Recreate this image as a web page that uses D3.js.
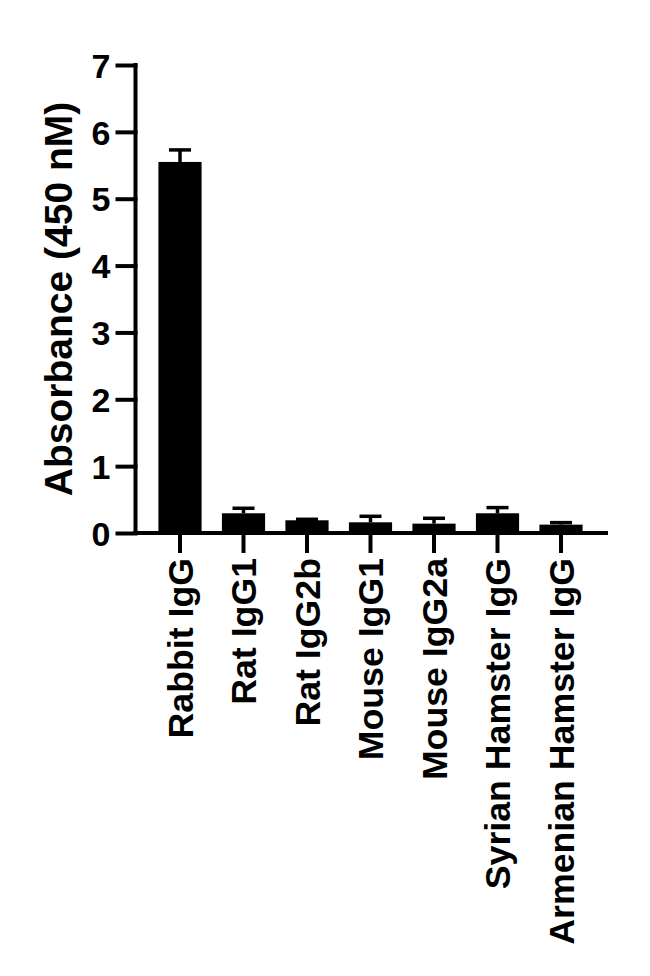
<!DOCTYPE html>
<html>
<head>
<meta charset="utf-8">
<script src="https://cdn.jsdelivr.net/npm/d3@7"></script>
<style>
  html, body { margin: 0; padding: 0; background: #fff; }
  svg text { font-family: "Liberation Sans", Arial, Helvetica, sans-serif; font-weight: bold; fill: #000; }
</style>
</head>
<body>
<svg id="chart" width="650" height="976"></svg>
<script>
const categories = ["Rabbit IgG", "Rat IgG1", "Rat IgG2b", "Mouse IgG1", "Mouse IgG2a", "Syrian Hamster IgG", "Armenian Hamster IgG"];
const means = [5.55, 0.295, 0.19, 0.16, 0.14, 0.295, 0.125];
const errors = [0.18, 0.075, 0.015, 0.09, 0.08, 0.085, 0.03];
const yTicks = [0, 1, 2, 3, 4, 5, 6, 7];
const yTitle = "Absorbance (450 nM)";

const svg = d3.select("#chart");

const y = d3.scaleLinear().domain([0, 7]).range([533, 65]);
const x = d3.scaleBand().domain(categories).range([148.25, 592.75]).paddingInner(0.32).paddingOuter(0.16);

const axisX = 135.5;
const baseY = y(0);

// bars
svg.append("g").selectAll("rect").data(categories).join("rect")
  .attr("x", d => x(d))
  .attr("width", x.bandwidth())
  .attr("y", (d, i) => y(means[i]))
  .attr("height", (d, i) => baseY - y(means[i]))
  .attr("fill", "#000");

// error bars (upper only)
const eg = svg.append("g").attr("stroke", "#000").attr("stroke-width", 3.5);
categories.forEach((c, i) => {
  const cx = x(c) + x.bandwidth() / 2;
  eg.append("line").attr("x1", cx).attr("x2", cx).attr("y1", y(means[i])).attr("y2", y(means[i] + errors[i]));
  eg.append("line").attr("x1", cx - 11).attr("x2", cx + 11).attr("y1", y(means[i] + errors[i])).attr("y2", y(means[i] + errors[i]));
});

// y axis
const yAxis = d3.axisLeft(y).tickValues(yTicks).tickFormat(d3.format("d")).tickSize(20).tickSizeOuter(0).tickPadding(5);
const yg = svg.append("g").attr("transform", `translate(${axisX},0)`).call(yAxis);
yg.select(".domain").attr("stroke", "#000").attr("stroke-width", 4).attr("d", `M0,${y(7) - 2}V${baseY + 2}`);
yg.selectAll(".tick line").attr("stroke", "#000").attr("stroke-width", 4).attr("x1", 2);
yg.selectAll(".tick text").style("font-size", "34px").attr("dy", "0.36em");

// x axis
const xAxis = d3.axisBottom(x).tickSize(20).tickSizeOuter(0).tickPadding(5);
const xg = svg.append("g").attr("transform", `translate(0,${baseY})`).call(xAxis);
xg.select(".domain").attr("stroke", "#000").attr("stroke-width", 4).attr("d", `M${axisX - 2},0H608`);
xg.selectAll(".tick line").attr("stroke", "#000").attr("stroke-width", 4);
xg.selectAll(".tick text")
  .style("font-size", "35.7px")
  .attr("text-anchor", "end")
  .attr("transform", "rotate(-90)")
  .attr("x", -25)
  .attr("y", 0)
  .attr("dy", "0.36em");

// y title
svg.append("text")
  .attr("transform", "translate(71.5,299) rotate(-90)")
  .attr("text-anchor", "middle")
  .style("font-size", "39px")
  .text(yTitle);
</script>
</body>
</html>
